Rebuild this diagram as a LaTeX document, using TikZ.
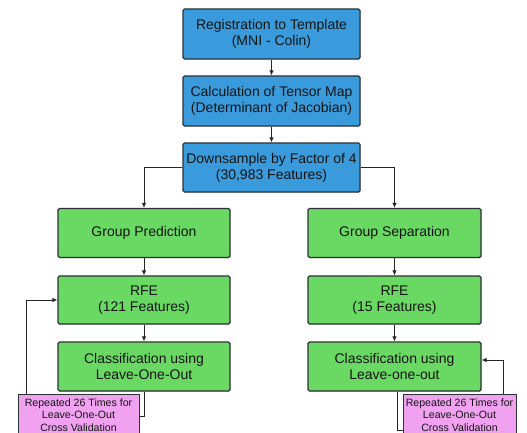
\documentclass[tikz,border=0pt]{standalone}
\usepackage{fontspec}
\setmainfont{Liberation Sans}
\usetikzlibrary{arrows.meta,shadows}
\definecolor{boxblue}{RGB}{58,155,220}
\definecolor{boxgreen}{RGB}{106,217,100}
\definecolor{boxpink}{RGB}{240,162,240}
\definecolor{edgegray}{RGB}{45,50,55}
\tikzset{
  box/.style={draw=edgegray, line width=1.1pt, rounded corners=1.5pt, align=center,
    inner sep=0pt, text=black!92, font=\fontsize{14}{16}\selectfont,
    drop shadow={opacity=0.25, shadow xshift=0.8pt, shadow yshift=-0.8pt}},
  bluebox/.style={box, fill=boxblue, minimum width=177, minimum height=50},
  greenbox/.style={box, fill=boxgreen, minimum width=172, minimum height=49},
  pinkbox/.style={draw=edgegray, line width=1pt, fill=boxpink, align=center, inner sep=0pt,
    text=black!92, font=\fontsize{10.6}{12.4}\selectfont, minimum height=42},
  conn/.style={draw=black!85, line width=0.9pt},
  arr/.style={conn, -{Latex[length=5pt,width=4.5pt]}},
}
\begin{document}
\begin{tikzpicture}[x=1pt,y=-1pt]
\clip (0,0) rectangle (527,433);
\fill[white] (0,0) rectangle (527,433);
% blue column
\node[bluebox] (reg) at (271.5,34) {Registration to Template\\(MNI - Colin)};
\node[bluebox] (ten) at (271.5,101) {Calculation of Tensor Map\\(Determinant of Jacobian)};
\node[bluebox, minimum height=49] (ds) at (271.5,167.5) {Downsample by Factor of 4\\(30,983 Features)};
% left column
\node[greenbox] (gp) at (144,233) {Group Prediction};
\node[greenbox, minimum height=48] (rfeL) at (144,300) {RFE\\(121 Features)};
\node[greenbox] (clsL) at (144,366.5) {Classification using\\Leave-One-Out};
\node[pinkbox, minimum width=121] (pinkL) at (78.5,415) {Repeated 26 Times for\\Leave-One-Out\\Cross Validation};
% right column
\node[greenbox, minimum width=173] (gs) at (394.5,233) {Group Separation};
\node[greenbox, minimum width=173, minimum height=48] (rfeR) at (394.5,300) {RFE\\(15 Features)};
\node[greenbox, minimum width=173] (clsR) at (394.5,366.5) {Classification using\\Leave-one-out};
\node[pinkbox, minimum width=113] (pinkR) at (459.5,415) {Repeated 26 Times for\\Leave-One-Out\\Cross Validation};
% helper coordinates
\coordinate (lx) at (26,0);
\coordinate (rx) at (503,0);
\coordinate (rdown) at (397,0);
\coordinate (rlow) at (0,430);
% connectors
\draw[arr] (reg) -- (ten);
\draw[arr] (ten) -- (ds);
\draw[arr] (ds.west) -| (gp.north);
\draw[arr] (ds.east) -| (gs.north);
\draw[arr] (gp) -- (rfeL);
\draw[arr] (rfeL) -- (clsL);
\draw[arr] (gs) -- (rfeR);
\draw[arr] (rfeR) -- (clsR);
\draw[conn] (clsL.south) |- ([yshift=-1pt]pinkL.east);
\draw[arr] (pinkL.north -| lx) |- (rfeL.west);
\draw[conn] (clsR.south -| rdown) |- (pinkR.west |- rlow);
\draw[arr] (pinkR.north -| rx) |- ([yshift=6.5pt]clsR.east);
\end{tikzpicture}
\end{document}
